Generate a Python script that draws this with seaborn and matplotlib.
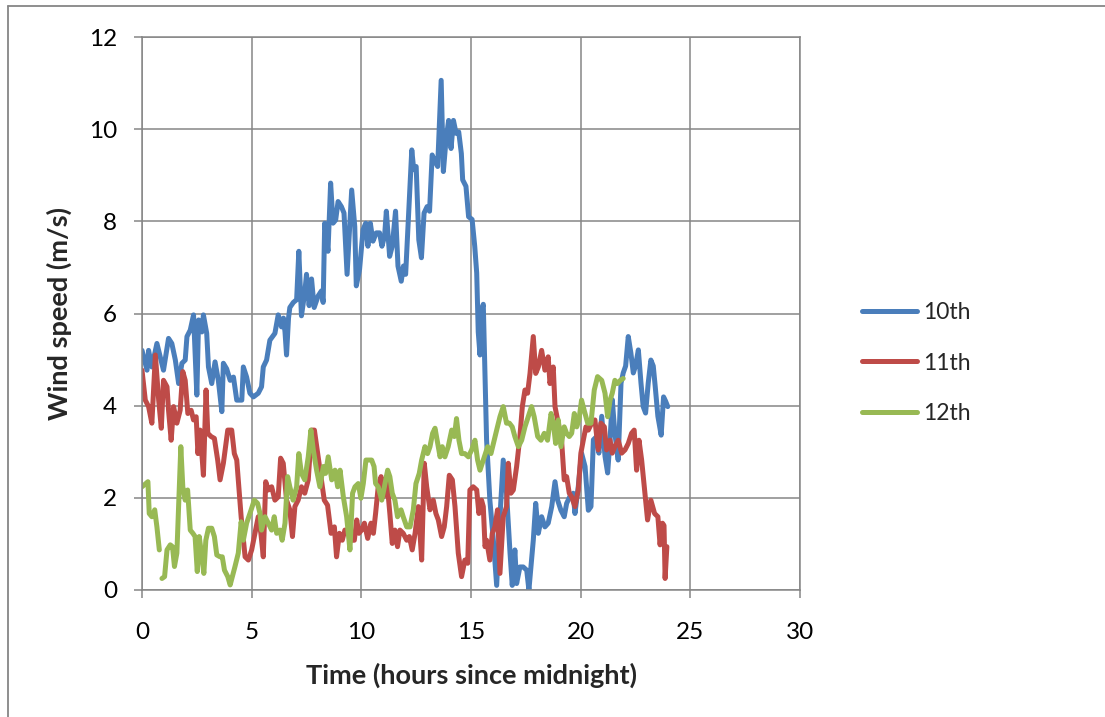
import numpy as np
import pandas as pd
import seaborn as sns
import matplotlib.pyplot as plt
from matplotlib.lines import Line2D

# Wind speed records (hours since midnight, m/s) for three consecutive days
t_10th = [0.00, 0.23, 0.30, 0.45, 0.68, 0.83, 0.98, 1.21, 1.36, 1.52, 1.67, 1.82, 1.97, 2.05, 2.20,
          2.35, 2.50, 2.58, 2.73, 2.80, 2.95, 3.03, 3.18, 3.33, 3.48, 3.64, 3.71, 3.86, 4.02, 4.17,
          4.32, 4.55, 4.62, 4.77, 4.92, 5.08, 5.30, 5.45, 5.53, 5.68, 5.83, 6.06, 6.21, 6.36, 6.45,
          6.52, 6.59, 6.68, 6.74, 6.90, 7.05, 7.15, 7.27, 7.42, 7.50, 7.62, 7.73, 7.85, 8.03, 8.18,
          8.26, 8.33, 8.48, 8.60, 8.71, 8.83, 8.94, 9.09, 9.21, 9.35, 9.47, 9.56, 9.70, 9.77, 9.92,
          10.08, 10.20, 10.30, 10.41, 10.53, 10.68, 10.83, 10.94, 11.06, 11.14, 11.29, 11.41, 11.56,
          11.67, 11.82, 11.92, 12.02, 12.17, 12.30, 12.39, 12.50, 12.62, 12.74, 12.86, 13.00, 13.11,
          13.23, 13.33, 13.48, 13.64, 13.74, 13.86, 13.98, 14.09, 14.20, 14.32, 14.44, 14.56, 14.62,
          14.77, 14.89, 15.05, 15.17, 15.26, 15.33, 15.41, 15.50, 15.56, 15.71, 15.86, 16.02, 16.17,
          16.32, 16.47, 16.62, 16.78, 16.88, 17.00, 17.08, 17.23, 17.38, 17.54, 17.64, 17.84, 17.95,
          18.07, 18.22, 18.37, 18.52, 18.68, 18.83, 18.95, 19.10, 19.25, 19.36, 19.51, 19.66, 19.74,
          19.89, 20.04, 20.20, 20.35, 20.47, 20.58, 20.73, 20.83, 20.96, 21.11, 21.23, 21.34, 21.44,
          21.56, 21.71, 21.84, 21.94, 22.05, 22.17, 22.29, 22.40, 22.50, 22.63, 22.75, 22.85, 22.96,
          23.08, 23.20, 23.31, 23.40, 23.52, 23.67, 23.78, 23.87, 23.97]
ws_10th = [5.20, 4.77, 5.20, 4.84, 5.35, 5.06, 4.77, 5.46, 5.35, 4.99, 4.48, 4.92, 4.99, 5.50, 5.64,
           5.97, 4.23, 5.86, 5.60, 5.97, 5.57, 4.84, 4.48, 4.95, 4.55, 3.87, 4.92, 4.80, 4.55, 4.62,
           4.12, 4.12, 4.84, 4.62, 4.27, 4.19, 4.27, 4.41, 4.84, 4.99, 5.42, 5.57, 5.97, 5.71, 5.90,
           5.60, 5.10, 5.90, 6.13, 6.24, 6.30, 7.35, 5.95, 6.45, 6.85, 6.17, 6.75, 6.13, 6.38, 6.49,
           6.24, 7.96, 7.35, 8.83, 7.96, 8.03, 8.43, 8.32, 8.18, 6.85, 7.89, 8.68, 7.89, 6.60, 6.96,
           7.82, 7.96, 7.46, 7.96, 7.57, 7.75, 7.75, 7.46, 7.68, 8.22, 7.24, 7.46, 8.22,
           7.03, 6.70, 7.03, 6.85, 8.32, 9.55, 9.12, 9.19, 7.60, 7.21, 8.18, 8.32, 8.22,
           9.44, 9.33, 9.19, 11.06, 9.08, 9.76, 10.19, 9.58, 10.19, 9.91, 9.94, 9.47, 8.90,
           8.76, 8.10, 8.04, 7.46, 6.88, 5.60, 5.10, 6.10, 6.20, 3.26, 1.95, 1.08, 0.10,
           1.59, 2.82, 2.10, 0.80, 0.10, 0.87, 0.14, 0.50, 0.50, 0.43, 0.00, 1.08, 1.88,
           1.23, 1.59, 1.37, 1.45, 1.81, 2.35, 1.95, 1.73, 1.59, 1.88, 2.03, 2.10, 1.66,
           2.24, 2.97, 2.68, 1.73, 1.81, 3.26, 3.33, 2.97, 3.77, 2.90, 2.54, 3.26, 4.13,
           3.40, 2.82, 4.49, 4.71, 4.86, 5.50, 5.14, 4.71, 4.86, 5.21, 4.49, 3.98, 3.84,
           4.49, 4.99, 4.86, 4.41, 3.77, 3.36, 4.19, 4.10, 3.98]

t_11th = [0.00, 0.15, 0.30, 0.45, 0.61, 0.76, 0.88, 0.98, 1.14, 1.21, 1.33, 1.44, 1.59, 1.74, 1.86,
          1.97, 2.09, 2.24, 2.35, 2.47, 2.55, 2.65, 2.80, 2.92, 3.00, 3.15, 3.30, 3.45, 3.56, 3.71,
          3.91, 4.09, 4.21, 4.32, 4.52, 4.70, 4.85, 5.00, 5.15, 5.30, 5.42, 5.53, 5.64, 5.76, 5.91,
          6.06, 6.21, 6.32, 6.44, 6.59, 6.74, 6.86, 6.97, 7.12, 7.27, 7.42, 7.58, 7.73, 7.86, 8.01,
          8.16, 8.31, 8.46, 8.62, 8.77, 8.87, 9.00, 9.13, 9.25, 9.40, 9.53, 9.68, 9.79, 9.89, 10.01,
          10.14, 10.29, 10.44, 10.55, 10.65, 10.77, 10.90, 11.00, 11.15, 11.30, 11.41, 11.53, 11.65,
          11.76, 11.91, 12.07, 12.19, 12.32, 12.45, 12.60, 12.75, 12.87, 12.98, 13.13, 13.28, 13.40,
          13.51, 13.66, 13.78, 13.89, 14.01, 14.15, 14.27, 14.42, 14.57, 14.72, 14.85, 14.95, 15.10,
          15.26, 15.36, 15.48, 15.56, 15.64, 15.71, 15.86, 15.97, 16.09, 16.21, 16.32, 16.47, 16.62,
          16.70, 16.82, 16.93, 17.08, 17.23, 17.34, 17.46, 17.58, 17.69, 17.84, 17.95, 18.07, 18.22,
          18.37, 18.52, 18.60, 18.75, 18.83, 18.98, 19.13, 19.25, 19.36, 19.48, 19.59, 19.74, 19.89,
          20.01, 20.12, 20.24, 20.35, 20.50, 20.65, 20.80, 20.92, 21.08, 21.18, 21.34, 21.44, 21.56,
          21.71, 21.87, 22.02, 22.17, 22.32, 22.44, 22.55, 22.66, 22.78, 22.93, 23.05, 23.20, 23.37,
          23.52, 23.62, 23.73, 23.80, 23.85, 23.93]
ws_11th = [4.77, 4.12, 3.98, 3.62, 5.10, 4.12, 3.51, 4.55, 4.41, 3.90, 3.25, 3.98, 3.62, 3.90, 4.74,
           4.55, 3.83, 3.90, 3.69, 3.76, 2.96, 3.47, 2.49, 4.34, 3.40, 3.33, 3.29, 2.82, 2.39, 2.75,
           3.47, 3.47, 2.96, 2.82, 1.59, 0.72, 0.65, 0.87, 1.23, 1.59, 1.23, 0.72, 2.35, 2.17, 2.24,
           1.95, 2.02, 2.86, 2.75, 1.95, 1.74, 1.16, 1.81, 1.95, 2.24, 2.10, 2.39, 3.47, 3.47, 2.96,
           2.46, 1.95, 1.84, 1.23, 1.37, 0.72, 1.23, 1.08, 1.30, 1.30, 1.08, 1.08, 1.52, 1.23, 1.30,
           1.45, 1.12, 1.45, 1.23, 1.66, 2.24, 2.46, 2.02, 2.46, 1.66, 1.01, 1.30, 0.94,
           1.30, 1.23, 1.08, 1.16, 0.87, 1.23, 1.81, 0.65, 2.75, 2.24, 1.74, 1.95, 1.66,
           1.52, 1.16, 1.37, 1.81, 2.49, 2.39, 1.81, 0.80, 0.29, 0.65, 0.58, 2.17, 2.24,
           2.17, 1.66, 1.95, 1.81, 0.94, 1.08, 0.65, 1.23, 1.37, 1.74, 0.36, 1.59, 1.81,
           2.75, 2.10, 2.17, 2.68, 3.33, 3.98, 4.34, 4.27, 4.70, 5.50, 4.70, 4.84, 5.20,
           4.77, 5.06, 4.48, 4.84, 3.98, 3.62, 3.25, 2.39, 2.46, 2.10, 2.02, 1.81, 2.17,
           2.97, 3.25, 3.54, 3.47, 3.62, 3.69, 3.04, 3.62, 3.54, 3.04, 3.25, 2.97, 3.11,
           3.25, 2.97, 3.04, 3.18, 3.40, 3.47, 2.60, 3.25, 2.82, 2.10, 1.52, 1.95, 1.66,
           1.59, 0.98, 1.45, 1.40, 0.25, 0.94]

# NaN marks a gap in the 12th's record
t_12th = [0.00, 0.15, 0.27, 0.33, 0.45, 0.58, 0.68, 0.79, 0.85, 0.91, 1.03, 1.14, 1.29, 1.39, 1.48,
          1.59, 1.70, 1.77, 1.86, 1.97, 2.08, 2.20, 2.32, 2.42, 2.52, 2.61, 2.73, 2.82, 2.91, 3.03,
          3.18, 3.30, 3.41, 3.56, 3.66, 3.76, 3.91, 4.02, 4.12, 4.24, 4.39, 4.52, 4.62, 4.77, 4.92,
          5.12, 5.27, 5.38, 5.45, 5.61, 5.76, 5.91, 6.03, 6.14, 6.29, 6.39, 6.52, 6.64, 6.74, 6.89,
          7.05, 7.15, 7.27, 7.42, 7.58, 7.70, 7.81, 7.96, 8.11, 8.27, 8.37, 8.49, 8.65, 8.80, 8.92,
          9.03, 9.18, 9.33, 9.48, 9.60, 9.71, 9.86, 9.98, 10.09, 10.21, 10.35, 10.47, 10.58, 10.65,
          10.77, 10.93, 11.08, 11.20, 11.30, 11.41, 11.53, 11.65, 11.81, 11.91, 12.07, 12.22, 12.37,
          12.49, 12.64, 12.75, 12.90, 13.02, 13.13, 13.25, 13.36, 13.48, 13.59, 13.69, 13.81, 13.96,
          14.12, 14.24, 14.34, 14.45, 14.57, 14.72, 14.88, 15.03, 15.18, 15.30, 15.41, 15.56, 15.76,
          15.91, 16.02, 16.17, 16.32, 16.47, 16.62, 16.75, 16.88, 17.00, 17.16, 17.31, 17.46, 17.61,
          17.76, 17.88, 18.04, 18.19, 18.34, 18.49, 18.65, 18.75, 18.86, 18.98, 19.10, 19.25, 19.36,
          19.48, 19.59, 19.71, 19.82, 19.92, 20.04, 20.16, 20.32, 20.47, 20.62, 20.77, 20.96, 21.11,
          21.23, 21.34, 21.44, 21.56, 21.68, 21.81, 21.94]
ws_12th = [2.24, 2.30, 2.35, 1.66, 1.59, 1.74, 1.37, 0.87, np.nan, 0.25, 0.29, 0.87, 0.98, 0.94, 0.51,
           0.80, 2.24, 3.11, 2.24, 1.95, 2.17, 1.30, 1.23, 1.16, 0.40, 1.16, 0.72, 0.36, 1.08, 1.34,
           1.34, 1.16, 0.76, 0.72, 0.72, 0.43, 0.29, 0.11, 0.29, 0.51, 0.80, 1.48, 1.08, 1.45, 1.66,
           1.95, 1.88, 1.66, 1.30, 1.59, 1.45, 1.30, 1.59, 1.23, 1.30, 1.08, 1.45, 2.46, 2.24, 1.95,
           2.24, 2.96, 2.53, 2.39, 2.89, 3.47, 3.04, 2.60, 2.24, 2.68, 2.53, 2.89, 2.39, 2.60, 2.24,
           2.60, 2.02, 1.59, 0.87, 2.10, 2.24, 2.31, 1.99, 2.31, 2.82, 2.82, 2.82, 2.68, 2.31,
           2.24, 1.95, 2.31, 2.60, 2.46, 2.10, 1.95, 1.59, 1.74, 1.59, 1.37, 1.37, 1.74,
           2.31, 2.53, 2.82, 3.11, 2.96, 3.11, 3.40, 3.51, 3.18, 2.89, 3.11, 2.89, 3.11,
           3.47, 3.33, 3.72, 3.25, 2.96, 2.96, 2.89, 3.04, 3.25, 2.82, 2.60, 2.82, 3.11,
           2.96, 3.18, 3.47, 3.76, 3.98, 3.62, 3.62, 3.54, 3.33, 3.11, 3.25, 3.54, 3.76,
           3.98, 3.76, 3.33, 3.25, 3.40, 3.25, 3.83, 3.62, 3.18, 3.69, 3.11, 3.54, 3.40,
           3.33, 3.40, 3.83, 3.54, 3.69, 4.12, 3.90, 3.62, 3.62, 4.34, 4.63, 4.55, 4.27,
           3.76, 4.12, 4.27, 4.55, 4.48, 4.55, 4.59]

days = ["10th", "11th", "12th"]
day_colors = ["#4A7EBB", "#BE4B48", "#98B954"]

frames = []
for day, t, ws in zip(days, [t_10th, t_11th, t_12th], [ws_10th, ws_11th, ws_12th]):
    d = pd.DataFrame({"time": t, "speed": ws, "day": day})
    d["segment"] = d["speed"].isna().cumsum()
    frames.append(d.dropna())
df = pd.concat(frames, ignore_index=True)

sns.set_theme(style="white")
plt.rcParams["font.family"] = ["Lato", "DejaVu Sans"]

W, H = 1105, 717
fig = plt.figure(figsize=(W / 100, H / 100), dpi=100)
ax = fig.add_axes([142 / W, 1 - 590 / H, (800 - 142) / W, (590 - 37) / H])

grid_col = "#868686"
ax.set_xlim(0, 30)
ax.set_ylim(0, 12)
ax.set_xticks(np.arange(0, 31, 5))
ax.set_yticks(np.arange(0, 13, 2))
ax.grid(True, color=grid_col, linewidth=1.1)
ax.set_axisbelow(True)
for s in ax.spines.values():
    s.set_color(grid_col)
    s.set_linewidth(1.1)

line_w = 3.6
sns.lineplot(data=df, x="time", y="speed", hue="day", units="segment",
             estimator=None, sort=False, palette=day_colors, linewidth=line_w,
             solid_joinstyle="round", solid_capstyle="round", ax=ax, legend=True)

ax.tick_params(axis="both", which="major", direction="out", length=6, width=1.1,
               color=grid_col, labelsize=17.5, labelcolor="black")
ax.tick_params(axis="x", pad=17)
ax.tick_params(axis="y", pad=12)
ax.tick_params(bottom=True, left=True)

ax.set_xlabel("Time (hours since midnight)", fontsize=19.5, fontweight="bold", labelpad=14)
ax.set_ylabel("Wind speed (m/s)", fontsize=19.5, fontweight="bold", labelpad=12)

handles, labels = ax.get_legend_handles_labels()
for h in handles:
    h.set_linewidth(line_w)
    h.set_solid_capstyle("round")
ax.legend(handles, labels, loc="center left", bbox_to_anchor=(862 / W, 1 - 363 / H),
          bbox_transform=fig.transFigure, frameon=False, fontsize=16.5,
          handlelength=2.4, handletextpad=0.25, labelspacing=1.3,
          borderpad=0, borderaxespad=0)

# chart-area frame: top and left edges
fig.add_artist(Line2D([7.5 / W, 1], [1 - 5.7 / H, 1 - 5.7 / H], color=grid_col, lw=1.3,
                      transform=fig.transFigure))
fig.add_artist(Line2D([7.5 / W, 7.5 / W], [0, 1 - 5.7 / H], color=grid_col, lw=1.3,
                      transform=fig.transFigure))

fig.savefig("out.png", dpi=100)
